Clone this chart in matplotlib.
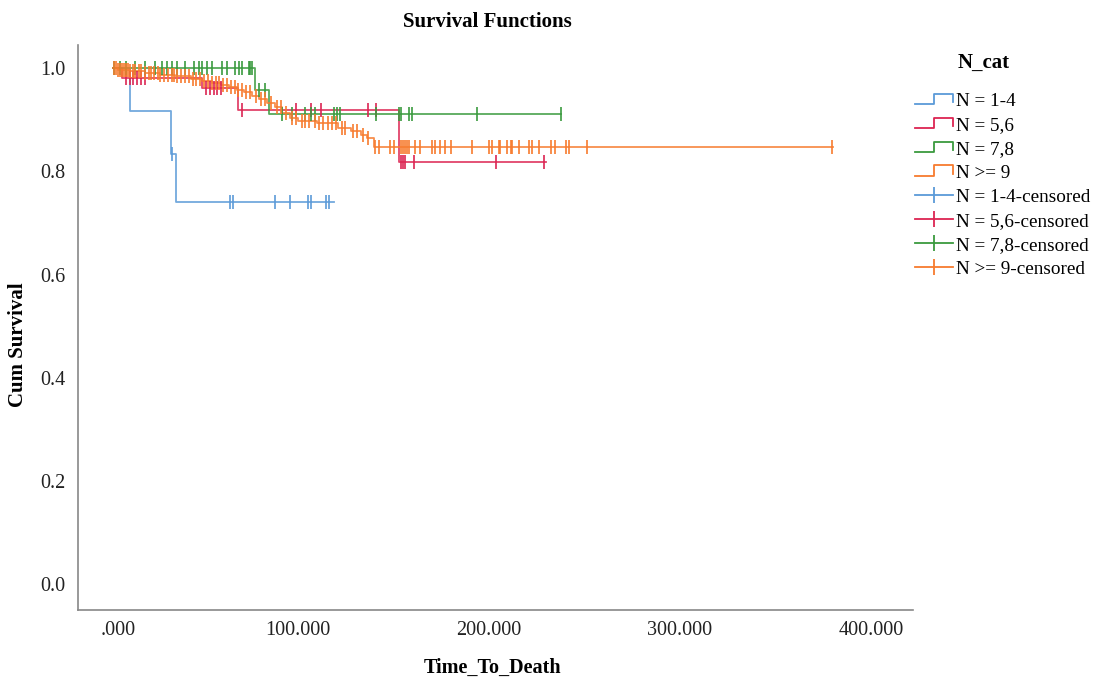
import numpy as np
import matplotlib.pyplot as plt
from matplotlib.lines import Line2D
from matplotlib.legend_handler import HandlerBase
from matplotlib.ticker import FuncFormatter
from matplotlib.transforms import ScaledTranslation

plt.rcParams['font.family'] = ['Liberation Serif', 'DejaVu Serif']

# Kaplan-Meier step curves: times where survival changes, and the new level
labels = ['N = 1-4', 'N = 5,6', 'N = 7,8', 'N >= 9']
colors = ['#5b9ad8', '#dc2452', '#3a9a3e', '#f77b2e']

blue_t = [3.5, 12.4, 33.5, 36.5]
blue_s = [1.0, 0.917, 0.833, 0.741]
blue_end = 119
blue_cens = [34, 64.8, 66, 88.3, 96.1, 105.3, 106.9, 114.7, 116.2]

red_t = [3.5, 8, 50, 69, 153]
red_s = [1.0, 0.981, 0.962, 0.919, 0.818]
red_end = 230
red_cens = [10, 12, 14, 16, 18, 20, 52, 54, 56, 58, 60, 71, 99, 107, 112,
            137, 141, 154, 155, 156.4, 160.7, 204, 229]

green_t = [3.5, 77.8, 85]
green_s = [1.0, 0.958, 0.911]
green_end = 238
green_cens = [4, 7, 10, 15, 20, 25.5, 29, 31.6, 34.2, 36.8, 41.2, 45.5, 48.2,
              49.9, 52.5, 55.1, 60.4, 63, 67.4, 69.1, 70.8, 74.3, 75.2, 76.1,
              80, 83, 92, 97, 104, 107, 109, 119, 120.5, 122, 141, 153, 154,
              158, 160, 194, 238]

orange_t = [3.5, 6, 12, 20, 28, 36, 44, 50, 55, 60, 64, 68, 72, 76, 80, 84, 88,
            92, 96, 100, 110, 121, 128, 133, 136, 140]
orange_s = [1.0, 0.997, 0.994, 0.991, 0.987, 0.984, 0.980, 0.976, 0.972, 0.967,
            0.963, 0.958, 0.954, 0.947, 0.940, 0.932, 0.924, 0.914, 0.903,
            0.897, 0.893, 0.884, 0.878, 0.871, 0.864, 0.848]
orange_end = 380
orange_cens = [4, 5, 6, 7, 8, 9, 10, 11, 12, 14, 15, 17, 18, 20, 22,
               23, 25, 27, 28, 30, 32, 34, 35, 37, 39, 41, 43, 45, 47, 49, 51,
               53, 55, 57, 59, 61, 63, 65, 67, 69, 71, 73, 75, 78, 81, 83, 86,
               89, 91, 94, 97, 99, 102, 104, 106, 109, 111, 113, 116, 118, 120,
               123, 125, 129, 131, 134, 137, 140.7, 142.4, 148.5, 150.3, 153.8,
               155, 156, 157, 158.1, 161.6, 164.2, 170.3, 172.1, 174.7, 177.3,
               180, 191.3, 200, 201.7, 205.2, 206.1, 209.6, 211.4, 212.2, 215.7,
               220.9, 222.7, 226.2, 232.3, 234.9, 240.2, 241.9, 251.5, 379.6]

groups = [
    (blue_t, blue_s, blue_end, blue_cens),
    (red_t, red_s, red_end, red_cens),
    (green_t, green_s, green_end, green_cens),
    (orange_t, orange_s, orange_end, orange_cens),
]


class StepHandler(HandlerBase):
    def create_artists(self, legend, orig_handle, xdescent, ydescent,
                       width, height, fontsize, trans):
        x0 = -xdescent
        y0 = -ydescent
        xs = [x0, x0 + 0.5 * width, x0 + 0.5 * width, x0 + width, x0 + width]
        ys = [y0 + 0.15 * height, y0 + 0.15 * height, y0 + 0.95 * height,
              y0 + 0.95 * height, y0 + 0.35 * height]
        line = Line2D(xs, ys, color=orig_handle.get_color(),
                      lw=orig_handle.get_linewidth())
        line.set_transform(trans)
        return [line]


fig = plt.figure(figsize=(10.95, 6.8), dpi=100)
ax = fig.add_axes([0.0712, 0.1029, 0.7626, 0.8309])

for (t, s, end, cens), col in zip(groups, colors):
    xs = list(t) + [end]
    ys = list(s) + [s[-1]]
    ax.step(xs, ys, where='post', color=col, lw=1.3, alpha=0.85)

for (t, s, end, cens), col in zip(groups, colors):
    idx = np.searchsorted(t, cens, side='right') - 1
    ax.plot(cens, np.array(s)[idx], linestyle='none', marker='|', ms=10,
            mew=1.4, color=col, alpha=0.85)

ax.set_xlim(-15, 422)
ax.set_ylim(-0.05, 1.045)
ax.set_xticks([0, 100, 200, 300, 400])
ax.set_yticks([0.0, 0.2, 0.4, 0.6, 0.8, 1.0])
ax.xaxis.set_major_formatter(FuncFormatter(
    lambda v, p: '.000' if v == 0 else f'{v:.3f}'))
ax.yaxis.set_major_formatter(FuncFormatter(lambda v, p: f'{v:.1f}'))
ax.tick_params(axis='both', length=0, labelsize=14.5, colors='#222222')
ax.tick_params(axis='x', pad=8)
ax.tick_params(axis='y', pad=9)
# SPSS drops the leading zero but keeps the label where "0.000" would sit
zero_lab = ax.xaxis.get_major_ticks()[0].label1
zero_lab.set_transform(zero_lab.get_transform()
                       + ScaledTranslation(0.12, 0, fig.dpi_scale_trans))
for side in ['top', 'right']:
    ax.spines[side].set_visible(False)
for side in ['left', 'bottom']:
    ax.spines[side].set_color('#888888')
    ax.spines[side].set_linewidth(1.2)

fig.text(487 / 1095, 1 - 22 / 680, 'Survival Functions', ha='center',
         va='center', fontsize=15, fontweight='bold')
fig.text(492 / 1095, 1 - 668 / 680, 'Time_To_Death', ha='center',
         va='center', fontsize=14.5, fontweight='bold')
fig.text(18 / 1095, 1 - 345 / 680, 'Cum Survival', ha='center',
         va='center', rotation=90, fontsize=15, fontweight='bold')
fig.text(958 / 1095, 1 - 63 / 680, 'N_cat', ha='left', va='center',
         fontsize=15, fontweight='bold')

handles = [Line2D([], [], color=c, lw=1.3) for c in colors]
handles += [Line2D([], [], color=c, lw=1.3, marker='|', ms=12, mew=1.3)
            for c in colors]
leg_labels = labels + [l + '-censored' for l in labels]
handler_map = {h: StepHandler() for h in handles[:4]}
fig.legend(handles, leg_labels, handler_map=handler_map, loc='upper left',
           bbox_to_anchor=(915 / 1095, 1 - 93 / 680), frameon=False,
           fontsize=13.8, handlelength=2.0, handletextpad=0.15,
           labelspacing=0.34, borderpad=0, borderaxespad=0, numpoints=1)

fig.savefig('out.png', dpi=100)
